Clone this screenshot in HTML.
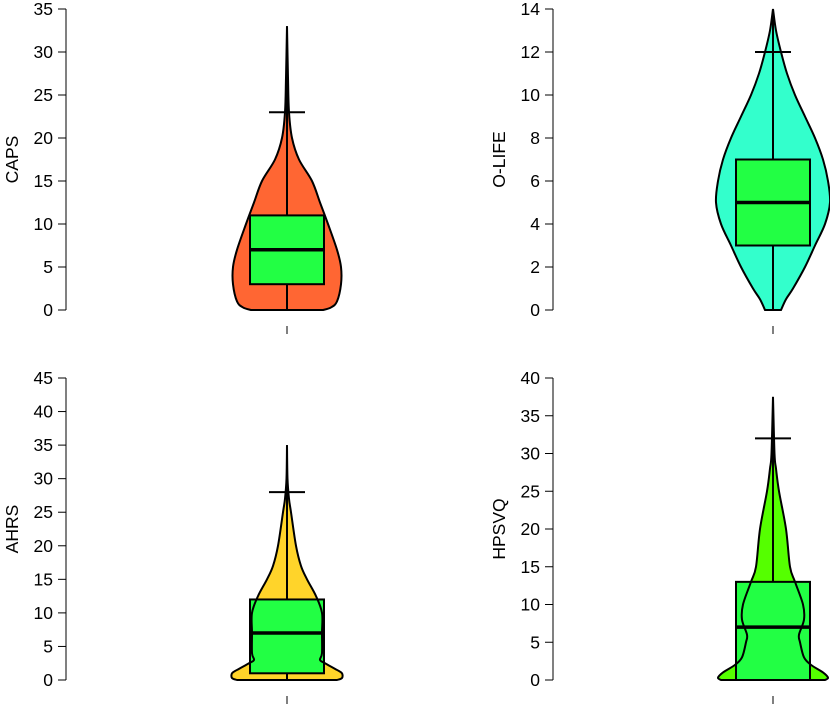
<!DOCTYPE html>
<html><head><meta charset="utf-8"><style>
body{margin:0;background:#fff;}
svg{display:block;font-family:"Liberation Sans",Arial,sans-serif;}
</style></head><body>
<svg id="c" width="830" height="704" viewBox="0 0 830 704"></svg>
<script>
const panelNames = ["CAPS","O-LIFE","AHRS","HPSVQ"];
const panelColors = ["#FF6633","#33FFCC","#FFD42A","#55FF00"];
const yMaxes = [35,14,45,40];
const yTickSteps = [5,2,5,5];
// box stats: [min, q1, median, q3, whiskerCap, max]
const capsStats = [0,3,7,11,23,33];
const olifeStats = [0,3,5,7,12,14];
const ahrsStats = [0,1,7,12,28,35];
const hpsvqStats = [0,0,7,13,32,37.5];
// violin density profiles: value levels and half-widths
const capsLevels = [0,0.3,1,3,5,7,10,12.5,15,17.5,20,23,27,33];
const capsDens =   [36,44,50,54,54,50,41,33,25,12,5,2,1,0];
const olifeLevels = [0,0.5,1,2,3,4,5,6,7,8,9,10,11,12,13,14];
const olifeDens =   [8,13,20,32,42,52,57,55,50,42,32,22,14,8,3,0];
const ahrsLevels = [0,0.3,1,1.5,2.5,3,4,7,10,12.5,15,17,20,25,27,30,35];
const ahrsDens =   [50,55,55,50,38,33,35,35,35,29,20,14,9,4,2,0.5,0];
const hpsvqLevels = [0,0.3,1,2,3,5,6,8,10,13,15,20,25,28,30,37.5];
const hpsvqDens =   [52,55,50,38,31,27,26,31,30,22,17,13,6,3,1.5,0];

const stats=[capsStats,olifeStats,ahrsStats,hpsvqStats];
const levels=[capsLevels,olifeLevels,ahrsLevels,hpsvqLevels];
const dens=[capsDens,olifeDens,ahrsDens,hpsvqDens];
const layout=[{ax:66,cx:287,y0:310,y1:9},{ax:553,cx:773,y0:310,y1:9},{ax:66,cx:287,y0:680,y1:378},{ax:553,cx:773,y0:680,y1:378}];
const NS="http://www.w3.org/2000/svg";
const svg=document.getElementById('c');
function mk(tag,attrs,parent){const e=document.createElementNS(NS,tag);for(const k in attrs)e.setAttribute(k,attrs[k]);(parent||svg).appendChild(e);return e;}
function smooth(pts){let d=`M${pts[0][0]},${pts[0][1]}`;for(let i=0;i<pts.length-1;i++){const p0=pts[Math.max(0,i-1)],p1=pts[i],p2=pts[i+1],p3=pts[Math.min(pts.length-1,i+2)];
const c1=[p1[0]+(p2[0]-p0[0])/6,p1[1]+(p2[1]-p0[1])/6],c2=[p2[0]-(p3[0]-p1[0])/6,p2[1]-(p3[1]-p1[1])/6];d+=`C${c1[0]},${c1[1]} ${c2[0]},${c2[1]} ${p2[0]},${p2[1]}`;}return d;}
for(let p=0;p<4;p++){
  const L=layout[p];
  const g=mk('g',{});
  
  
  const y=v=>L.y0-(v/yMaxes[p])*(L.y0-L.y1);
  const ax=mk('line',{x1:L.ax,x2:L.ax,y1:y(0),y2:y(yMaxes[p]),stroke:'#000','stroke-width':1},g);
  
  
  for(let v=0;v<=yMaxes[p]+1e-9;v+=yTickSteps[p]){
    mk('line',{x1:L.ax-8,x2:L.ax,y1:y(v),y2:y(v),stroke:'#000'},g);
    const t=mk('text',{x:L.ax-13,y:y(v)+6,'text-anchor':'end','font-size':17.5},g);
    t.textContent=v;
    
    
  }
  const ly=(L.y0+L.y1)/2;
  const lab=mk('text',{x:0,y:0,transform:`translate(${L.ax-48},${ly}) rotate(-90)`,'text-anchor':'middle','font-size':17.5},g);
  lab.textContent=panelNames[p];
  
  
  mk('line',{x1:L.cx,x2:L.cx,y1:L.y0+16,y2:L.y0+24,stroke:'#000'},g);
  const lv=levels[p],dn=dens[p];
  const right=lv.map((v,i)=>[L.cx+dn[i],y(v)]);
  const left=lv.map((v,i)=>[L.cx-dn[i],y(v)]).reverse();
  const d=smooth(right)+smooth(left).replace(/^M/,'L')+'Z';
  const vf=mk('path',{d:d,fill:panelColors[p],stroke:'none'},g);
  
  
  const s=stats[p];
  const bx=mk('rect',{x:L.cx-37,y:y(s[3]),width:74,height:y(s[1])-y(s[3]),fill:'#22FF44',stroke:'#000','stroke-width':2},g);
  
  
  mk('path',{d:d,fill:'none',stroke:'#000','stroke-width':2},g);
  mk('line',{x1:L.cx,x2:L.cx,y1:y(s[3]),y2:y(s[5]),stroke:'#000','stroke-width':2},g);
  if(s[1]>s[0]) mk('line',{x1:L.cx,x2:L.cx,y1:y(s[0]),y2:y(s[1]),stroke:'#000','stroke-width':2},g);
  mk('line',{x1:L.cx-18,x2:L.cx+18,y1:y(s[4]),y2:y(s[4]),stroke:'#000','stroke-width':2},g);
  const md=mk('line',{x1:L.cx-37,x2:L.cx+37,y1:y(s[2]),y2:y(s[2]),stroke:'#000','stroke-width':3.5},g);
  
  
}
</script>
</body></html>
